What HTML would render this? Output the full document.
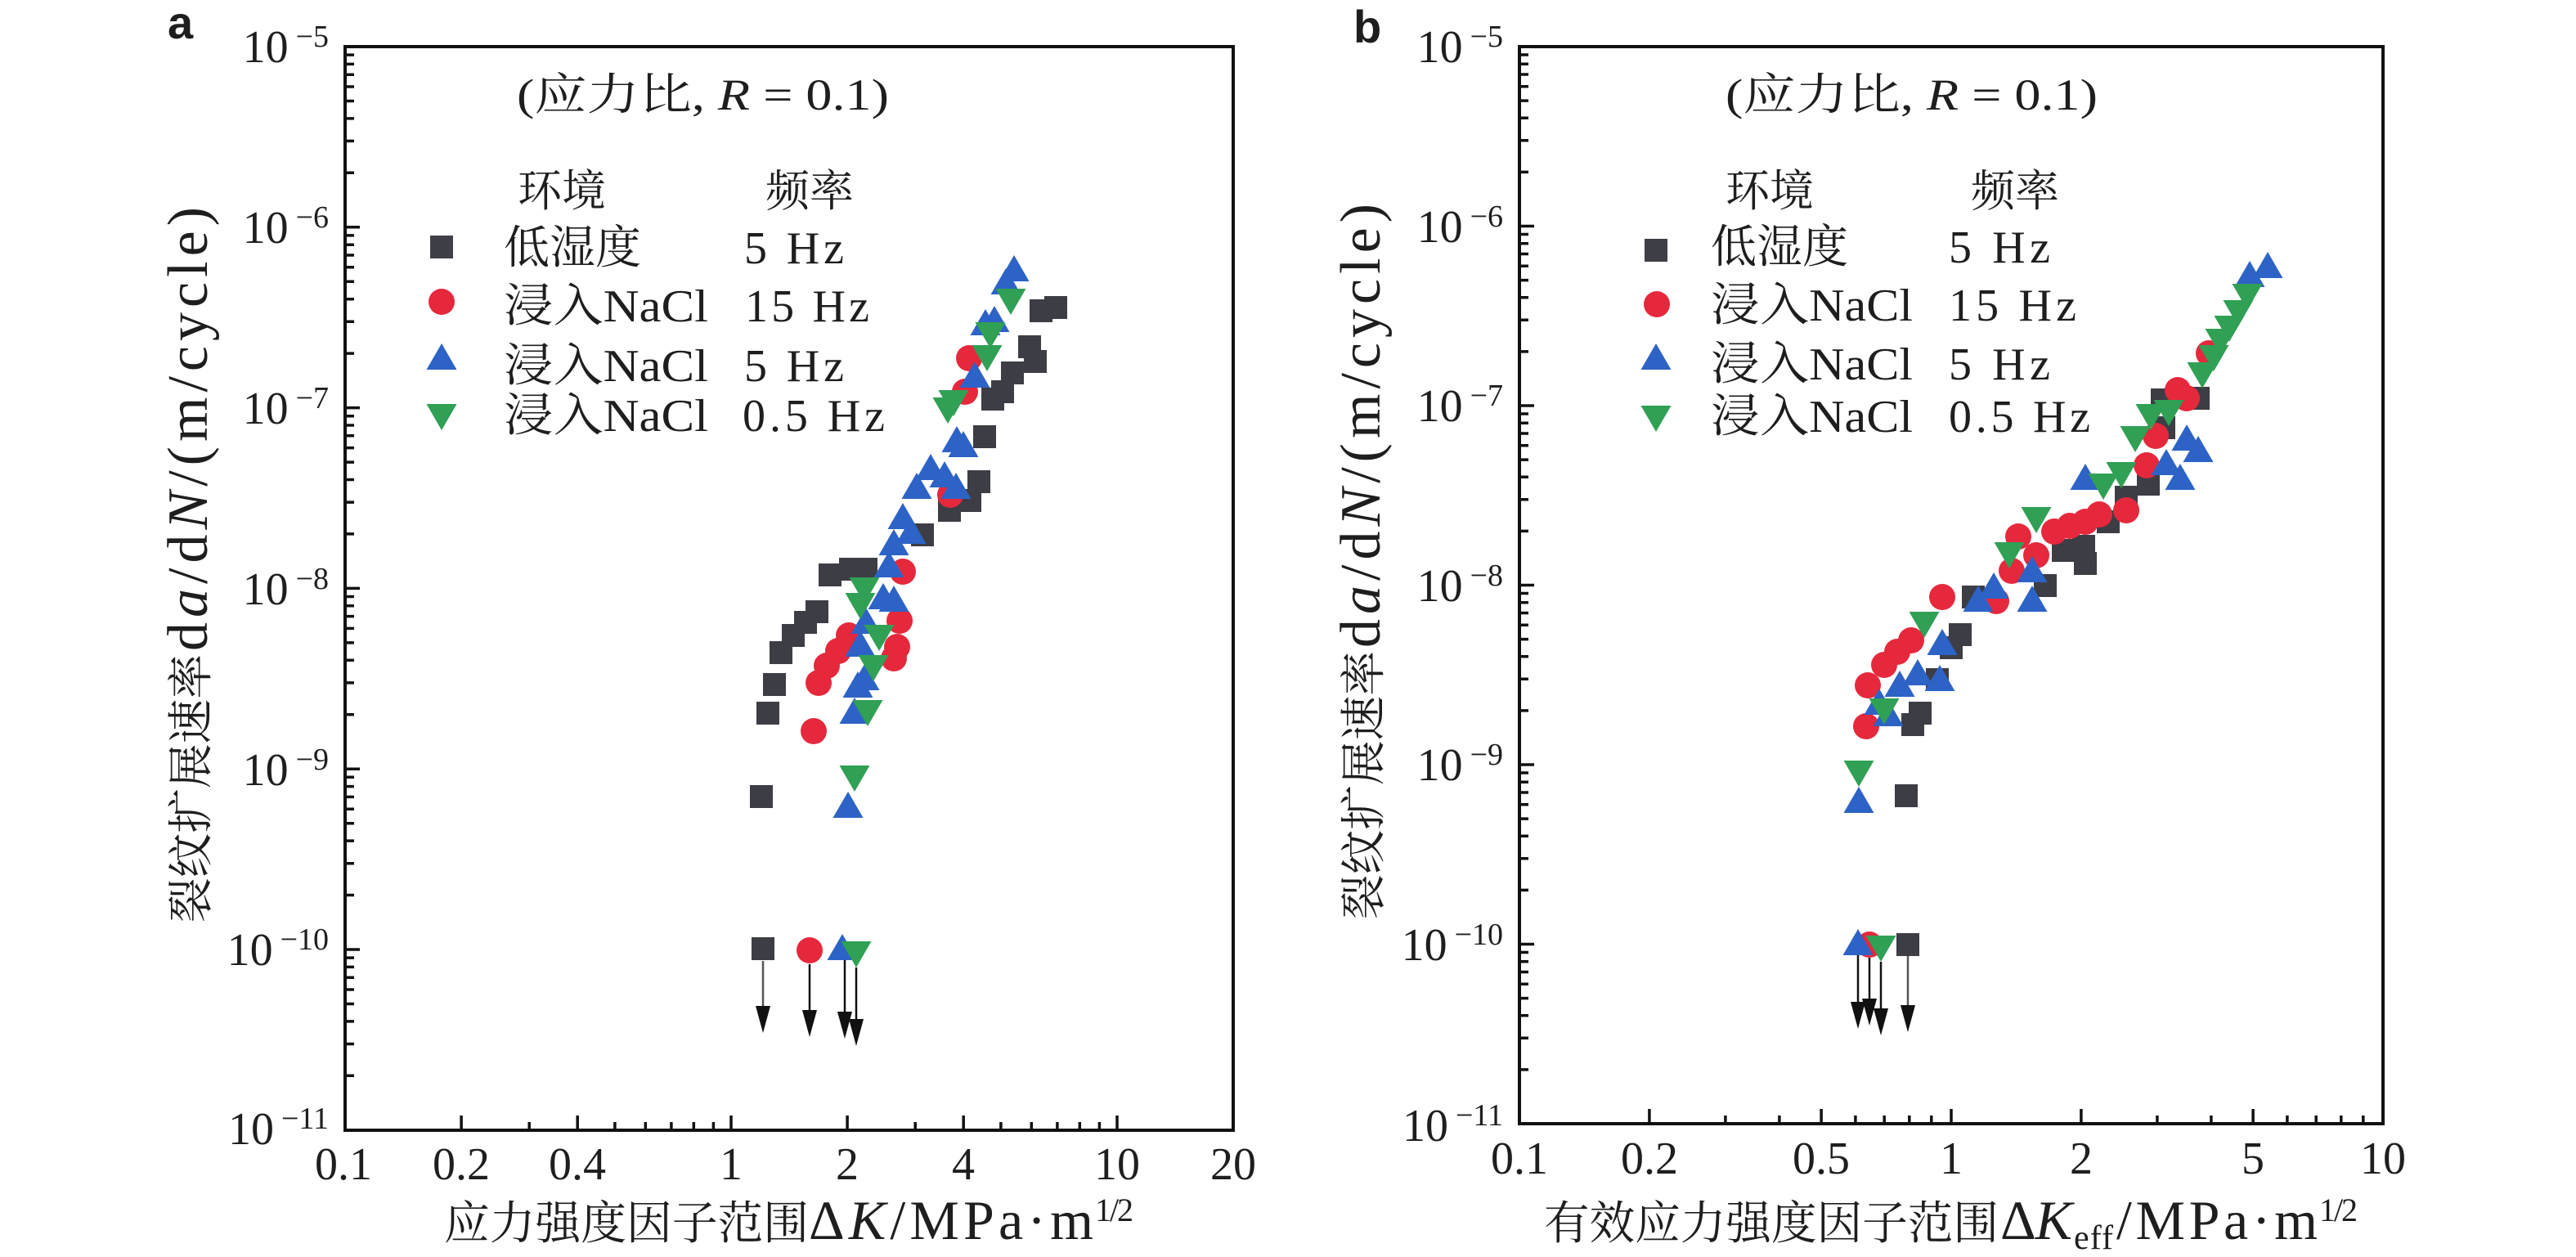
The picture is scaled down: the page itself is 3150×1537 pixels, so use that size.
<!DOCTYPE html>
<html><head><meta charset="utf-8"><style>
html,body{margin:0;padding:0;background:#fff;}
svg{display:block;}
text{font-family:"Liberation Serif","Noto Serif CJK SC",serif;fill:#1e1e1e;}
.cjk{font-family:"Liberation Serif","Noto Serif CJK SC","Noto Sans CJK SC",serif;}
</style></head><body>
<svg width="3150" height="1537" viewBox="0 0 3150 1537" xmlns="http://www.w3.org/2000/svg">
<rect width="3150" height="1537" fill="#fff"/>

<!-- panel labels -->
<text x="205" y="47" font-weight="bold" font-size="56" style="font-family:'Liberation Sans',sans-serif">a</text>
<text x="1655" y="52" font-weight="bold" font-size="56" style="font-family:'Liberation Sans',sans-serif">b</text>

<!-- ============ LEFT PANEL ============ -->
<rect x="422" y="57" width="1086" height="1325" fill="none" stroke="#111" stroke-width="4"/>
<path stroke="#111" stroke-width="3.5" fill="none" d="
M422 277.8h18M422 498.6h18M422 719.4h18M422 940.2h18M422 1161h18
M422 211.3h11M422 172.4h11M422 144.9h11M422 123.5h11M422 106h11M422 91.2h11M422 78.4h11M422 67.1h11
M422 432.1h11M422 393.3h11M422 365.7h11M422 344.3h11M422 326.8h11M422 312h11M422 299.2h11M422 287.9h11
M422 652.9h11M422 614.1h11M422 586.5h11M422 565.1h11M422 547.6h11M422 532.8h11M422 520h11M422 508.7h11
M422 873.7h11M422 834.9h11M422 807.3h11M422 785.9h11M422 768.4h11M422 753.6h11M422 740.8h11M422 729.5h11
M422 1094.5h11M422 1055.7h11M422 1028.1h11M422 1006.7h11M422 989.2h11M422 974.4h11M422 961.6h11M422 950.3h11
M422 1315.3h11M422 1276.5h11M422 1248.9h11M422 1227.5h11M422 1210h11M422 1195.2h11M422 1182.4h11M422 1171.1h11
M564.1 1382v-18M706.2 1382v-18M894 1382v-18M1036.1 1382v-18M1178.2 1382v-18M1366 1382v-18
M647.2 1382v-10M751.9 1382v-10M789.3 1382v-10M820.9 1382v-10M848.3 1382v-10M872.4 1382v-10
M1119.2 1382v-10M1223.9 1382v-10M1261.3 1382v-10M1292.9 1382v-10M1320.3 1382v-10M1344.4 1382v-10"/>

<g font-size="56" text-anchor="end">
<text x="402" y="76">10<tspan dx="9" dy="-19" font-size="38">−5</tspan></text>
<text x="402" y="297">10<tspan dx="9" dy="-19" font-size="38">−6</tspan></text>
<text x="402" y="518">10<tspan dx="9" dy="-19" font-size="38">−7</tspan></text>
<text x="402" y="739">10<tspan dx="9" dy="-19" font-size="38">−8</tspan></text>
<text x="402" y="960">10<tspan dx="9" dy="-19" font-size="38">−9</tspan></text>
<text x="402" y="1180">10<tspan dx="9" dy="-19" font-size="38">−10</tspan></text>
<text x="402" y="1399">10<tspan dx="9" dy="-19" font-size="38">−11</tspan></text>
</g>
<g font-size="56" text-anchor="middle">
<text x="420" y="1442">0.1</text>
<text x="564" y="1442">0.2</text>
<text x="706" y="1442">0.4</text>
<text x="894" y="1442">1</text>
<text x="1036" y="1442">2</text>
<text x="1178" y="1442">4</text>
<text x="1366" y="1442">10</text>
<text x="1508" y="1442">20</text>
</g>
<!-- x title left -->
<text class="cjk" x="543" y="1515" font-size="56" textLength="446" lengthAdjust="spacingAndGlyphs">应力强度因子范围</text>
<text x="989" y="1515" font-size="68" textLength="348" lengthAdjust="spacing">Δ<tspan font-style="italic">K</tspan>/MPa·m</text>
<text x="1339" y="1493" font-size="40" textLength="47" lengthAdjust="spacing">1/2</text>
<!-- y title left -->
<g transform="translate(253,1128) rotate(-90)">
<text class="cjk" x="0" y="0" font-size="56" textLength="328" lengthAdjust="spacingAndGlyphs">裂纹扩展速率</text>
<text x="332" y="0" font-size="70" textLength="543" lengthAdjust="spacing">d<tspan font-style="italic">a</tspan>/d<tspan font-style="italic">N</tspan>/(m/cycle)</text>
</g>

<!-- annotation & legend left -->
<text class="cjk" x="632" y="134" font-size="54" textLength="455" lengthAdjust="spacingAndGlyphs">(应力比, <tspan font-style="italic">R</tspan> = 0.1)</text>
<text class="cjk" x="633" y="252" font-size="54" textLength="108" lengthAdjust="spacingAndGlyphs">环境</text>
<text class="cjk" x="936" y="252" font-size="54" textLength="108" lengthAdjust="spacingAndGlyphs">频率</text>
<text class="cjk" x="616" y="322" font-size="56" textLength="168" lengthAdjust="spacingAndGlyphs">低湿度</text>
<text class="cjk" x="616" y="393" font-size="56" textLength="250" lengthAdjust="spacingAndGlyphs">浸入NaCl</text>
<text class="cjk" x="616" y="466" font-size="56" textLength="250" lengthAdjust="spacingAndGlyphs">浸入NaCl</text>
<text class="cjk" x="616" y="527" font-size="56" textLength="250" lengthAdjust="spacingAndGlyphs">浸入NaCl</text>
<text x="910" y="322" font-size="56" textLength="122" lengthAdjust="spacing">5 Hz</text>
<text x="911" y="393" font-size="56" textLength="152" lengthAdjust="spacing">15 Hz</text>
<text x="910" y="466" font-size="56" textLength="122" lengthAdjust="spacing">5 Hz</text>
<text x="908" y="527" font-size="56" textLength="174" lengthAdjust="spacing">0.5 Hz</text>
<path fill="#3f3f47" transform="translate(540,302)" d="M-14-14h28v28h-28z"/>
<circle fill="#e6283c" cx="540" cy="369" r="16"/>
<path fill="#2d63c6" transform="translate(540,436)" d="M0-16l18.5 32h-37z"/>
<path fill="#30a055" transform="translate(540,510)" d="M0 16l18.5-32h-37z"/>

<!-- left data: squares -->
<g fill="#3d3d45">
<path transform="translate(1273,380)" d="M-14-14h28v28h-28z"/>
<path transform="translate(1291,376)" d="M-14-14h28v28h-28z"/>
<path transform="translate(1259,424)" d="M-14-14h28v28h-28z"/>
<path transform="translate(1266,442)" d="M-14-14h28v28h-28z"/>
<path transform="translate(1238,456)" d="M-14-14h28v28h-28z"/>
<path transform="translate(1226,479)" d="M-14-14h28v28h-28z"/>
<path transform="translate(1214,488)" d="M-14-14h28v28h-28z"/>
<path transform="translate(1204,534)" d="M-14-14h28v28h-28z"/>
<path transform="translate(1197,589)" d="M-14-14h28v28h-28z"/>
<path transform="translate(1186,612)" d="M-14-14h28v28h-28z"/>
<path transform="translate(1161,624)" d="M-14-14h28v28h-28z"/>
<path transform="translate(1128,654)" d="M-14-14h28v28h-28z"/>
<path transform="translate(1059,696)" d="M-14-14h28v28h-28z"/>
<path transform="translate(1040,696)" d="M-14-14h28v28h-28z"/>
<path transform="translate(1015,703)" d="M-14-14h28v28h-28z"/>
<path transform="translate(999,748)" d="M-14-14h28v28h-28z"/>
<path transform="translate(985,761)" d="M-14-14h28v28h-28z"/>
<path transform="translate(970,777)" d="M-14-14h28v28h-28z"/>
<path transform="translate(955,798)" d="M-14-14h28v28h-28z"/>
<path transform="translate(947,837)" d="M-14-14h28v28h-28z"/>
<path transform="translate(939,872)" d="M-14-14h28v28h-28z"/>
<path transform="translate(931,974)" d="M-14-14h28v28h-28z"/>
<path transform="translate(933,1160)" d="M-14-14h28v28h-28z"/>
</g>
<g fill="#e6283c">
<circle cx="1185" cy="438" r="16"/><circle cx="1180" cy="479" r="16"/>
<circle cx="1162" cy="605" r="16"/><circle cx="1104" cy="699" r="16"/>
<circle cx="1100" cy="759" r="16"/><circle cx="1097" cy="791" r="16"/>
<circle cx="1093" cy="805" r="16"/><circle cx="1038" cy="777" r="16"/>
<circle cx="1025" cy="796" r="16"/><circle cx="1011" cy="814" r="16"/>
<circle cx="1001" cy="835" r="16"/><circle cx="995" cy="894" r="16"/>
<circle cx="990" cy="1162" r="16"/>
</g>
<g fill="#2d63c6">
<path transform="translate(1240,328)" d="M0-16l18.5 32h-37z"/>
<path transform="translate(1230,344)" d="M0-16l18.5 32h-37z"/>
<path transform="translate(1205,394)" d="M0-16l18.5 32h-37z"/>
<path transform="translate(1216,390)" d="M0-16l18.5 32h-37z"/>
<path transform="translate(1192,458)" d="M0-16l18.5 32h-37z"/>
<path transform="translate(1178,543)" d="M0-16l18.5 32h-37z"/>
<path transform="translate(1170,537)" d="M0-16l18.5 32h-37z"/>
<path transform="translate(1138,571)" d="M0-16l18.5 32h-37z"/>
<path transform="translate(1121,594)" d="M0-16l18.5 32h-37z"/>
<path transform="translate(1155,580)" d="M0-16l18.5 32h-37z"/>
<path transform="translate(1169,594)" d="M0-16l18.5 32h-37z"/>
<path transform="translate(1104,631)" d="M0-16l18.5 32h-37z"/>
<path transform="translate(1114,649)" d="M0-16l18.5 32h-37z"/>
<path transform="translate(1093,663)" d="M0-16l18.5 32h-37z"/>
<path transform="translate(1087,690)" d="M0-16l18.5 32h-37z"/>
<path transform="translate(1080,729)" d="M0-16l18.5 32h-37z"/>
<path transform="translate(1093,732)" d="M0-16l18.5 32h-37z"/>
<path transform="translate(1059,759)" d="M0-16l18.5 32h-37z"/>
<path transform="translate(1052,787)" d="M0-16l18.5 32h-37z"/>
<path transform="translate(1057,828)" d="M0-16l18.5 32h-37z"/>
<path transform="translate(1049,837)" d="M0-16l18.5 32h-37z"/>
<path transform="translate(1045,869)" d="M0-16l18.5 32h-37z"/>
<path transform="translate(1037,984)" d="M0-16l18.5 32h-37z"/>
<path transform="translate(1030,1158)" d="M0-16l18.5 32h-37z"/>
</g>
<g fill="#30a055">
<path transform="translate(1236,369)" d="M0 16l18.5-32h-37z"/>
<path transform="translate(1211,410)" d="M0 16l18.5-32h-37z"/>
<path transform="translate(1207,438)" d="M0 16l18.5-32h-37z"/>
<path transform="translate(1166,493)" d="M0 16l18.5-32h-37z"/>
<path transform="translate(1159,502)" d="M0 16l18.5-32h-37z"/>
<path transform="translate(1057,722)" d="M0 16l18.5-32h-37z"/>
<path transform="translate(1052,741)" d="M0 16l18.5-32h-37z"/>
<path transform="translate(1075,780)" d="M0 16l18.5-32h-37z"/>
<path transform="translate(1068,817)" d="M0 16l18.5-32h-37z"/>
<path transform="translate(1061,872)" d="M0 16l18.5-32h-37z"/>
<path transform="translate(1045,952)" d="M0 16l18.5-32h-37z"/>
<path transform="translate(1047,1167)" d="M0 16l18.5-32h-37z"/>
</g>
<!-- left arrows -->
<g stroke="#111" stroke-width="2.5">
<path d="M933 1175V1235" stroke="#555"/><path d="M990 1179V1240"/><path d="M1033 1174V1242"/><path d="M1047 1183V1250"/>
</g>
<g fill="#111">
<path d="M933 1263l-9-33h18z"/><path d="M990 1268l-9-33h18z"/><path d="M1033 1270l-9-33h18z"/><path d="M1047 1279l-9-33h18z"/>
</g>

<!-- ============ RIGHT PANEL ============ -->
<rect x="1858" y="57" width="1056" height="1317" fill="none" stroke="#111" stroke-width="4"/>
<path stroke="#111" stroke-width="3.5" fill="none" d="
M1858 276.5h18M1858 496h18M1858 715.5h18M1858 935h18M1858 1154.5h18
M1858 210.4h11M1858 171.8h11M1858 144.3h11M1858 123.1h11M1858 105.7h11M1858 91h11M1858 78.3h11M1858 67h11
M1858 429.9h11M1858 391.3h11M1858 363.8h11M1858 342.6h11M1858 325.2h11M1858 310.5h11M1858 297.8h11M1858 286.5h11
M1858 649.4h11M1858 610.8h11M1858 583.3h11M1858 562.1h11M1858 544.7h11M1858 530h11M1858 517.3h11M1858 506h11
M1858 868.9h11M1858 830.3h11M1858 802.8h11M1858 781.6h11M1858 764.2h11M1858 749.5h11M1858 736.8h11M1858 725.5h11
M1858 1088.4h11M1858 1049.8h11M1858 1022.3h11M1858 1001.1h11M1858 983.7h11M1858 969h11M1858 956.3h11M1858 945h11
M1858 1307.9h11M1858 1269.3h11M1858 1241.8h11M1858 1220.6h11M1858 1203.2h11M1858 1188.5h11M1858 1175.8h11M1858 1164.5h11
M2016.9 1374v-18M2227.1 1374v-18M2386 1374v-18M2544.9 1374v-18M2755.1 1374v-18
M2109.9 1374v-10M2175.9 1374v-10M2268.9 1374v-10M2304.2 1374v-10M2334.8 1374v-10M2361.8 1374v-10
M2637.9 1374v-10M2703.9 1374v-10M2796.9 1374v-10M2832.2 1374v-10M2862.8 1374v-10M2889.8 1374v-10"/>

<g font-size="56" text-anchor="end">
<text x="1838" y="76">10<tspan dx="9" dy="-19" font-size="38">−5</tspan></text>
<text x="1838" y="296">10<tspan dx="9" dy="-19" font-size="38">−6</tspan></text>
<text x="1838" y="515">10<tspan dx="9" dy="-19" font-size="38">−7</tspan></text>
<text x="1838" y="735">10<tspan dx="9" dy="-19" font-size="38">−8</tspan></text>
<text x="1838" y="954">10<tspan dx="9" dy="-19" font-size="38">−9</tspan></text>
<text x="1838" y="1174">10<tspan dx="9" dy="-19" font-size="38">−10</tspan></text>
<text x="1838" y="1395">10<tspan dx="9" dy="-19" font-size="38">−11</tspan></text>
</g>
<g font-size="56" text-anchor="middle">
<text x="1858" y="1435">0.1</text>
<text x="2017" y="1435">0.2</text>
<text x="2227" y="1435">0.5</text>
<text x="2386" y="1435">1</text>
<text x="2545" y="1435">2</text>
<text x="2755" y="1435">5</text>
<text x="2914" y="1435">10</text>
</g>
<!-- x title right -->
<text class="cjk" x="1888" y="1515" font-size="56" textLength="556" lengthAdjust="spacingAndGlyphs">有效应力强度因子范围</text>
<text x="2446" y="1515" font-size="68" textLength="88" lengthAdjust="spacing">Δ<tspan font-style="italic">K</tspan></text>
<text x="2536" y="1527" font-size="42" textLength="48" lengthAdjust="spacing">eff</text>
<text x="2588" y="1515" font-size="68" textLength="246" lengthAdjust="spacing">/MPa·m</text>
<text x="2836" y="1493" font-size="40" textLength="47" lengthAdjust="spacing">1/2</text>
<!-- y title right -->
<g transform="translate(1687,1124) rotate(-90)">
<text class="cjk" x="0" y="0" font-size="56" textLength="328" lengthAdjust="spacingAndGlyphs">裂纹扩展速率</text>
<text x="332" y="0" font-size="70" textLength="543" lengthAdjust="spacing">d<tspan font-style="italic">a</tspan>/d<tspan font-style="italic">N</tspan>/(m/cycle)</text>
</g>

<!-- annotation & legend right -->
<text class="cjk" x="2110" y="134" font-size="54" textLength="455" lengthAdjust="spacingAndGlyphs">(应力比, <tspan font-style="italic">R</tspan> = 0.1)</text>
<text class="cjk" x="2110" y="252" font-size="54" textLength="108" lengthAdjust="spacingAndGlyphs">环境</text>
<text class="cjk" x="2410" y="252" font-size="54" textLength="108" lengthAdjust="spacingAndGlyphs">频率</text>
<text class="cjk" x="2092" y="321" font-size="56" textLength="168" lengthAdjust="spacingAndGlyphs">低湿度</text>
<text class="cjk" x="2092" y="392" font-size="56" textLength="247" lengthAdjust="spacingAndGlyphs">浸入NaCl</text>
<text class="cjk" x="2092" y="464" font-size="56" textLength="247" lengthAdjust="spacingAndGlyphs">浸入NaCl</text>
<text class="cjk" x="2092" y="528" font-size="56" textLength="247" lengthAdjust="spacingAndGlyphs">浸入NaCl</text>
<text x="2383" y="321" font-size="56" textLength="124" lengthAdjust="spacing">5 Hz</text>
<text x="2383" y="392" font-size="56" textLength="156" lengthAdjust="spacing">15 Hz</text>
<text x="2383" y="464" font-size="56" textLength="124" lengthAdjust="spacing">5 Hz</text>
<text x="2383" y="528" font-size="56" textLength="173" lengthAdjust="spacing">0.5 Hz</text>
<path fill="#3f3f47" transform="translate(2025,306)" d="M-14-14h28v28h-28z"/>
<circle fill="#e6283c" cx="2026" cy="372" r="16"/>
<path fill="#2d63c6" transform="translate(2025,436)" d="M0-16l18.5 32h-37z"/>
<path fill="#30a055" transform="translate(2025,512)" d="M0 16l18.5-32h-37z"/>

<!-- right data -->
<g fill="#3d3d45">
<path transform="translate(2688,487)" d="M-14-14h28v28h-28z"/>
<path transform="translate(2644,489)" d="M-14-14h28v28h-28z"/>
<path transform="translate(2646,523)" d="M-14-14h28v28h-28z"/>
<path transform="translate(2627,592)" d="M-14-14h28v28h-28z"/>
<path transform="translate(2600,608)" d="M-14-14h28v28h-28z"/>
<path transform="translate(2578,638)" d="M-14-14h28v28h-28z"/>
<path transform="translate(2548,668)" d="M-14-14h28v28h-28z"/>
<path transform="translate(2550,689)" d="M-14-14h28v28h-28z"/>
<path transform="translate(2523,673)" d="M-14-14h28v28h-28z"/>
<path transform="translate(2501,716)" d="M-14-14h28v28h-28z"/>
<path transform="translate(2413,730)" d="M-14-14h28v28h-28z"/>
<path transform="translate(2397,776)" d="M-14-14h28v28h-28z"/>
<path transform="translate(2386,792)" d="M-14-14h28v28h-28z"/>
<path transform="translate(2369,831)" d="M-14-14h28v28h-28z"/>
<path transform="translate(2348,872)" d="M-14-14h28v28h-28z"/>
<path transform="translate(2339,886)" d="M-14-14h28v28h-28z"/>
<path transform="translate(2331,973)" d="M-14-14h28v28h-28z"/>
<path transform="translate(2333,1155)" d="M-14-14h28v28h-28z"/>
</g>
<g fill="#e6283c">
<circle cx="2701" cy="432" r="16"/><circle cx="2663" cy="477" r="16"/>
<circle cx="2674" cy="487" r="16"/><circle cx="2636" cy="533" r="16"/>
<circle cx="2625" cy="569" r="16"/><circle cx="2600" cy="624" r="16"/>
<circle cx="2567" cy="629" r="16"/><circle cx="2550" cy="638" r="16"/>
<circle cx="2531" cy="643" r="16"/><circle cx="2512" cy="650" r="16"/>
<circle cx="2468" cy="656" r="16"/><circle cx="2490" cy="679" r="16"/>
<circle cx="2460" cy="698" r="16"/><circle cx="2441" cy="735" r="16"/>
<circle cx="2375" cy="730" r="16"/><circle cx="2337" cy="783" r="16"/>
<circle cx="2320" cy="797" r="16"/><circle cx="2304" cy="813" r="16"/>
<circle cx="2284" cy="838" r="16"/><circle cx="2282" cy="888" r="16"/>
<circle cx="2286" cy="1155" r="16"/>
</g>
<g fill="#2d63c6">
<path transform="translate(2751,335)" d="M0-16l18.5 32h-37z"/>
<path transform="translate(2773,324)" d="M0-16l18.5 32h-37z"/>
<path transform="translate(2674,535)" d="M0-16l18.5 32h-37z"/>
<path transform="translate(2688,549)" d="M0-16l18.5 32h-37z"/>
<path transform="translate(2649,565)" d="M0-16l18.5 32h-37z"/>
<path transform="translate(2666,583)" d="M0-16l18.5 32h-37z"/>
<path transform="translate(2550,583)" d="M0-16l18.5 32h-37z"/>
<path transform="translate(2438,716)" d="M0-16l18.5 32h-37z"/>
<path transform="translate(2419,732)" d="M0-16l18.5 32h-37z"/>
<path transform="translate(2485,696)" d="M0-16l18.5 32h-37z"/>
<path transform="translate(2485,732)" d="M0-16l18.5 32h-37z"/>
<path transform="translate(2375,785)" d="M0-16l18.5 32h-37z"/>
<path transform="translate(2372,829)" d="M0-16l18.5 32h-37z"/>
<path transform="translate(2345,822)" d="M0-16l18.5 32h-37z"/>
<path transform="translate(2323,836)" d="M0-16l18.5 32h-37z"/>
<path transform="translate(2298,858)" d="M0-16l18.5 32h-37z"/>
<path transform="translate(2309,872)" d="M0-16l18.5 32h-37z"/>
<path transform="translate(2273,978)" d="M0-16l18.5 32h-37z"/>
<path transform="translate(2272,1152)" d="M0-16l18.5 32h-37z"/>
</g>
<g fill="#30a055">
<path transform="translate(2748,363)" d="M0 16l18.5-32h-37z"/>
<path transform="translate(2737,383)" d="M0 16l18.5-32h-37z"/>
<path transform="translate(2726,402)" d="M0 16l18.5-32h-37z"/>
<path transform="translate(2715,418)" d="M0 16l18.5-32h-37z"/>
<path transform="translate(2707,438)" d="M0 16l18.5-32h-37z"/>
<path transform="translate(2693,459)" d="M0 16l18.5-32h-37z"/>
<path transform="translate(2652,505)" d="M0 16l18.5-32h-37z"/>
<path transform="translate(2630,510)" d="M0 16l18.5-32h-37z"/>
<path transform="translate(2611,537)" d="M0 16l18.5-32h-37z"/>
<path transform="translate(2594,581)" d="M0 16l18.5-32h-37z"/>
<path transform="translate(2572,595)" d="M0 16l18.5-32h-37z"/>
<path transform="translate(2490,636)" d="M0 16l18.5-32h-37z"/>
<path transform="translate(2457,679)" d="M0 16l18.5-32h-37z"/>
<path transform="translate(2353,764)" d="M0 16l18.5-32h-37z"/>
<path transform="translate(2304,870)" d="M0 16l18.5-32h-37z"/>
<path transform="translate(2273,946)" d="M0 16l18.5-32h-37z"/>
<path transform="translate(2300,1160)" d="M0 16l18.5-32h-37z"/>
</g>
<!-- right arrows -->
<g stroke="#111" stroke-width="2.5">
<path d="M2272 1168V1230"/><path d="M2286 1171V1226"/><path d="M2300 1176V1236"/><path d="M2333 1169V1230" stroke="#555"/>
</g>
<g fill="#111">
<path d="M2272 1258l-9-33h18z"/><path d="M2286 1254l-9-33h18z"/><path d="M2300 1266l-9-33h18z"/><path d="M2333 1262l-9-33h18z"/>
</g>
</svg>
</body></html>
